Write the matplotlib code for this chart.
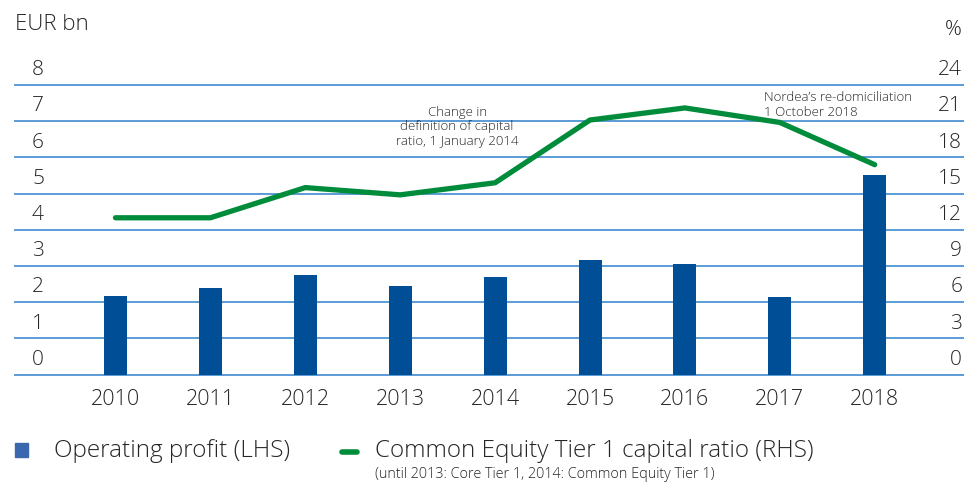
import matplotlib.pyplot as plt
from matplotlib.transforms import blended_transform_factory
from matplotlib.lines import Line2D
from matplotlib.patches import Rectangle

years = ["2010", "2011", "2012", "2013", "2014", "2015", "2016", "2017", "2018"]
operating_profit = [2.17, 2.39, 2.75, 2.45, 2.70, 3.17, 3.06, 2.15, 5.52]
cet1_ratio = [13.0, 13.0, 15.5, 14.9, 15.9, 21.1, 22.1, 20.9, 17.4]
left_ticks = [0, 1, 2, 3, 4, 5, 6, 7, 8]
right_ticks = [0, 3, 6, 9, 12, 15, 18, 21, 24]

plt.rcParams['font.family'] = ['Open Sans', 'DejaVu Sans']
plt.rcParams['font.weight'] = 'light'
text_col = '#262626'
bar_col = '#004e96'
line_col = '#008c3a'
grid_col = '#5b9bd5'

fig = plt.figure(figsize=(9.64, 4.84), dpi=100)
W, H = 964, 484
ax = fig.add_axes([15 / W, 1 - 374.7 / H, 1 - 15 / W, (374.7 - 85) / H])
x = list(range(len(years)))
ax.set_xlim((15 - 115.5) / 94.9, (964 - 115.5) / 94.9)
ax.set_ylim(0, 8)

for v in left_ticks:
    ax.axhline(v, color=grid_col, lw=1.4, zorder=1, clip_on=False)

ax.bar(x, operating_profit, width=23 / 94.9, color=bar_col, zorder=2)

ax2 = ax.twinx()
ax2.set_ylim(0, 24)
ax2.plot(x, cet1_ratio, color=line_col, lw=3.8, solid_capstyle='round',
         solid_joinstyle='miter', zorder=3)

for a in (ax, ax2):
    a.set_xticks([])
    a.set_yticks([])
    for s in a.spines.values():
        s.set_visible(False)
    a.patch.set_visible(False)

# tick labels sit above the grid lines
tl = blended_transform_factory(fig.transFigure, ax.transData)
for v in left_ticks:
    fig.text(38 / W, v + 0.41, str(v), transform=tl, ha='center', va='center',
             fontsize=15, color=text_col)
tr = blended_transform_factory(fig.transFigure, ax2.transData)
for v in right_ticks:
    fig.text(962 / W, v + 1.23, str(v), transform=tr, ha='right', va='center',
             fontsize=15, color=text_col)

for i, yr in enumerate(years):
    ax.text(i, -0.68, yr, ha='center', va='center', fontsize=15.5, color=text_col)

fig.text(15 / W, 1 - 25 / H, "EUR bn", ha='left', va='center', fontsize=16, color=text_col)
fig.text(962 / W, 1 - 30 / H, "%", ha='right', va='center', fontsize=15, color=text_col)

ax.text(3.6, 6.85, "Change in\ndefinition of capital\nratio, 1 January 2014",
        ha='center', va='center', fontsize=9.5, color=text_col, linespacing=1.15)
ax.text(6.83, 7.45, "Nordea\u2019s re-domiciliation\n1 October 2018",
        ha='left', va='center', fontsize=9.5, color=text_col, linespacing=1.15)

# legend
fig.patches.append(Rectangle((15 / W, 1 - 457 / H), 13 / W, 14 / H,
                             transform=fig.transFigure, color='#3a67ad'))
fig.text(54 / W, 1 - 451 / H, "Operating profit (LHS)", ha='left', va='center',
         fontsize=17.5, color=text_col)
fig.lines.append(Line2D([342 / W, 357 / W], [1 - 452 / H, 1 - 452 / H],
                        transform=fig.transFigure, color=line_col, lw=4,
                        solid_capstyle='round'))
fig.text(375 / W, 1 - 451 / H, "Common Equity Tier 1 capital ratio (RHS)", ha='left',
         va='center', fontsize=17.5, color=text_col)
fig.text(375 / W, 1 - 474 / H, "(until 2013: Core Tier 1, 2014: Common Equity Tier 1)",
         ha='left', va='center', fontsize=10.4, color=text_col)

fig.savefig("out.png", dpi=100)
